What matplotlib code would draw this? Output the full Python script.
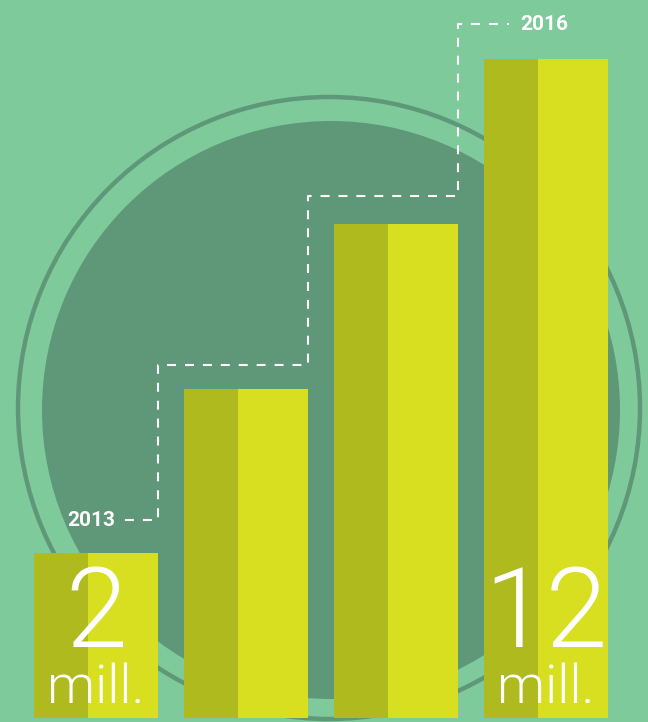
import matplotlib.pyplot as plt
from matplotlib.patches import Circle

# =============================================
# DONNÉES
# =============================================
years      = ["2013", "2014", "2015", "2016"]
heights    = [1, 2, 3, 4]            # hauteur visuelle des barres
step_level = [1.20, 2.14, 3.17, 4.21]  # niveaux de la ligne pointillée
big_labels = {0: "2", 3: "12"}

# =============================================
# STYLE
# =============================================
BG      = "#7FCA9B"
CIRCLE  = "#5E9878"
DARK    = "#AFBA1E"
LIGHT   = "#D7DF20"
W, H    = 648, 722
DPI     = 100

fig = plt.figure(figsize=(W / DPI, H / DPI), dpi=DPI)
fig.patch.set_facecolor(BG)

# ── fond : disque + anneau ───────────────────────
ax_bg = fig.add_axes([0, 0, 1, 1])
ax_bg.set_xlim(0, W)
ax_bg.set_ylim(H, 0)
ax_bg.set_facecolor(BG)
ax_bg.axis("off")
ax_bg.add_patch(Circle((331, 410), 289, facecolor=CIRCLE, edgecolor="none"))
ax_bg.add_patch(Circle((329, 408), 311, facecolor="none",
                       edgecolor=CIRCLE, linewidth=3.2))

# ── barres ──────────────────────────────────────
ax = fig.add_axes([0, 0, 1, 1])
ax.patch.set_alpha(0)
unit_px = 164.75
ax.set_xlim(-0.64, -0.64 + W / 150)
ymin = -4 / unit_px
ax.set_ylim(ymin, ymin + H / unit_px)
ax.axis("off")

x = list(range(len(years)))
bw, dw = 0.833, 0.36
ax.bar(x, heights, width=bw, color=LIGHT, linewidth=0, zorder=2)
ax.bar([xi - bw / 2 for xi in x], heights, width=dw, align="edge",
       color=DARK, linewidth=0, zorder=3)

# ── ligne pointillée en escalier ────────────────
sx = [x[0] + bw / 2 - 0.22]
sy = [step_level[0]]
for i in range(len(x) - 1):
    xr = x[i] + bw / 2
    sx += [xr, xr]
    sy += [step_level[i], step_level[i + 1]]
sx.append(x[-2] + bw / 2 + 0.34)
sy.append(step_level[-1])
line, = ax.plot(sx, sy, color="white", linewidth=1.5, zorder=4)
line.set_dashes((4.3, 4.3))

bold_font = ["Roboto", "DejaVu Sans"]
ax.text(sx[0] - 0.07, step_level[0], years[0], color="white",
        fontsize=15, fontweight="bold", family=bold_font,
        ha="right", va="center", zorder=5)
ax.text(sx[-1] + 0.07, step_level[-1], years[-1], color="white",
        fontsize=15, fontweight="bold", family=bold_font,
        ha="left", va="center", zorder=5)

# ── grands libellés ─────────────────────────────
for i, lab in big_labels.items():
    ax.text(x[i], 0.431, lab, color="white", fontsize=80,
            fontweight=300, family=["Roboto", "DejaVu Sans"],
            ha="center", va="baseline", zorder=5)
    ax.text(x[i], 0.091, "mill.", color="white", fontsize=39,
            fontweight=300, family=["Roboto", "DejaVu Sans"],
            ha="center", va="baseline", zorder=5)

plt.savefig("out.png", dpi=DPI, facecolor=BG)
plt.close()
